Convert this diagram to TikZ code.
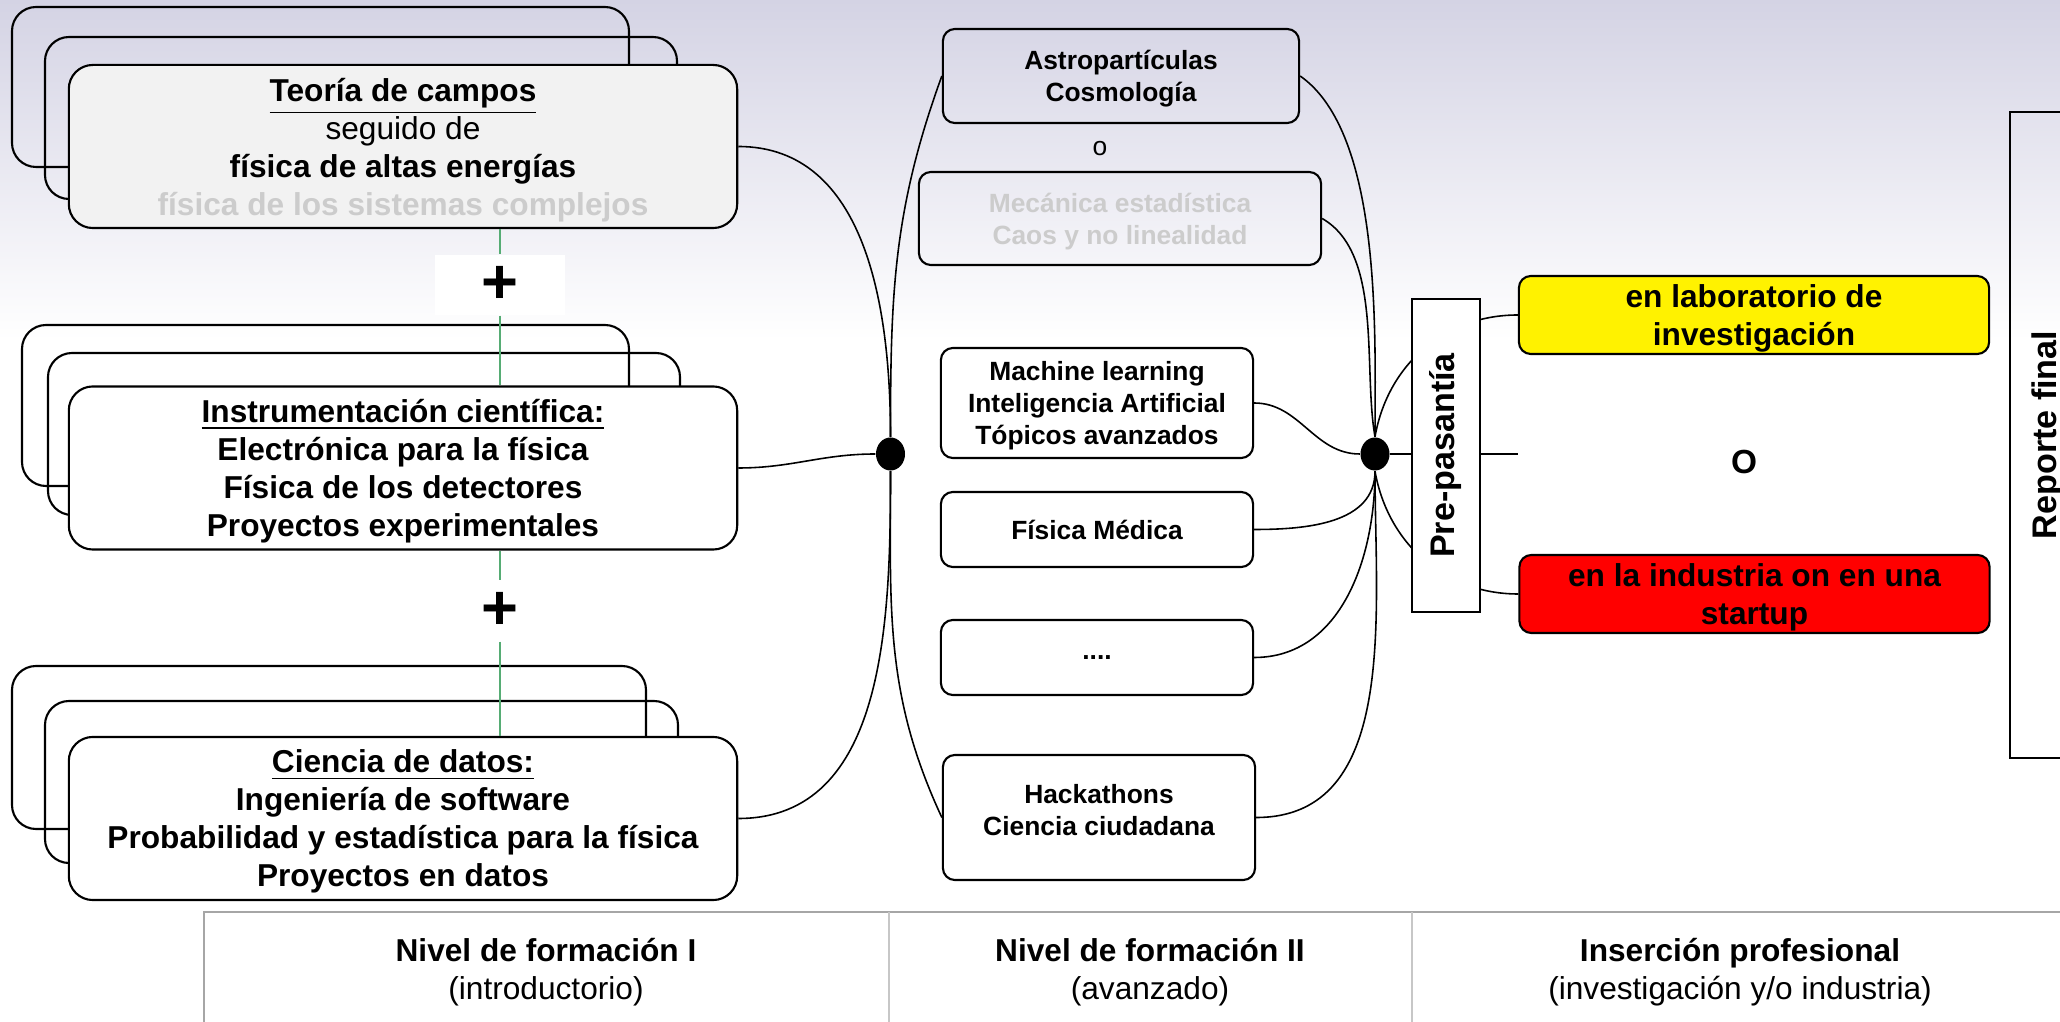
\documentclass[tikz,border=0pt]{standalone}
\usepackage{fontspec}
\setmainfont{Liberation Sans}
\usetikzlibrary{shapes.geometric}
\definecolor{fondo}{RGB}{212,211,228}
\definecolor{verde}{RGB}{86,172,116}
\newcommand{\bloque}[4][]{\node[bloque,#1] at (#2) (#3) {#4}}
\newcommand{\caja}[4][]{\node[caja,#1] at (#2) (#3) {#4}}

\begin{document}
\begin{tikzpicture}[x=0.01cm,y=0.01cm,
		atras/.style={draw,semithick,rounded corners=0.24cm},
		bloque/.style={draw,semithick,rounded corners=0.24cm,fill=white,align=center,inner sep=0pt,text depth=0pt,
			minimum width=6.68cm,minimum height=1.63cm,font=\fontsize{9}{10.8}\selectfont},
		caja/.style={draw,semithick,rounded corners=0.12cm,align=center,inner sep=0pt,text depth=0pt,
			minimum width=3.12cm,font=\fontsize{7.5}{9.1}\selectfont\bfseries},
		opcion/.style={draw,semithick,rounded corners=0.12cm,align=center,inner sep=0pt,text depth=0pt,
			minimum width=4.70cm,minimum height=0.78cm,font=\fontsize{9}{10.8}\selectfont\bfseries},
		vertical/.style={draw,semithick,rotate=90,inner sep=0pt,font=\fontsize{9.7}{11}\selectfont\bfseries},
		punto/.style={ellipse,fill=black,inner sep=0pt,minimum width=0.29cm,minimum height=0.33cm},
		mas/.style={fill=white,inner sep=0pt,minimum width=1.29cm,minimum height=0.60cm,font=\fontsize{18}{20}\selectfont\bfseries},
		nivel/.style={align=center,text depth=0pt,font=\fontsize{9}{10.8}\selectfont},
		enlace/.style={line width=0.45pt}]
					\useasboundingbox (0,0) rectangle (2060,-1022);
					\fill[top color=fondo,bottom color=white] (0,0) rectangle (2060,-340);
					
					\draw[atras] (12,-7) rectangle (629,-167);
					\draw[atras] (45,-37) rectangle (677,-199);
					\draw[atras] (22,-325) rectangle (629,-486);
					\draw[atras] (48,-353) rectangle (680,-515);
					\draw[atras] (12,-666) rectangle (646,-829);
					\draw[atras] (45,-701) rectangle (678,-863);
					
					\bloque[fill=black!5]{403,-146.5}{teoria}{\textbf{\underline{Teoría de campos}}\\seguido de\\\textbf{física de altas energías}\\\textcolor{black!20}{\textbf{física de los sistemas complejos}}};
					\bloque[font=\fontsize{9}{10.8}\selectfont\bfseries]{403,-468}{instr}{\underline{Instrumentación científica:}\\Electrónica para la física\\Física de los detectores\\Proyectos experimentales};
					\bloque[font=\fontsize{9}{10.8}\selectfont\bfseries]{403,-818.5}{datos}{\underline{Ciencia de datos:}\\Ingeniería de software\\Probabilidad y estadística para la física\\Proyectos en datos};
					
					\node[mas] at (500,-285) (mas1) {+};
					\node[mas] at (500,-611) (mas2) {+};
					\draw[verde] (teoria.south -| mas1) -- (mas1) -- (instr.north -| mas1);
					\draw[verde] (instr.south -| mas2) -- (mas2) -- (datos.north -| mas2);
					
					\caja[minimum width=3.56cm,minimum height=0.94cm]{1121,-76}{astro}{Astropartículas\\Cosmología};
					\node[font=\fontsize{7.5}{9}\selectfont] at (1100,-149) (o1) {o};
					\caja[minimum width=4.02cm,minimum height=0.93cm,text=black!20]{1120,-218.5}{mecanica}{Mecánica estadística\\Caos y no linealidad};
					\caja[fill=white,minimum height=1.10cm]{1097,-403}{ml}{Machine learning\\Inteligencia Artificial\\Tópicos avanzados};
					\caja[fill=white,minimum height=0.75cm]{1097,-529.5}{medica}{Física Médica};
					\caja[fill=white,minimum height=0.75cm]{1097,-657.5}{puntos}{....};
					\caja[fill=white,minimum height=1.25cm,text depth=4.4pt]{1099,-817.5}{hack}{Hackathons\\Ciencia ciudadana};
					
					\node[punto] at (890.5,-454) (dotI) {};
					\node[punto] at (1375,-454) (dotD) {};
					
					\node[opcion,fill=yellow] at (1754,-315) (lab) {en laboratorio de\\investigación};
					\node[opcion,fill=red] at (1754.5,-594) (ind) {en la industria on en una\\startup};
					\node[inner sep=0pt,minimum width=4.5cm,font=\fontsize{9.5}{11}\selectfont\bfseries] at (1744,-462) (oO) {O};
					
					\draw[enlace] (teoria.east) to[out=0,in=90] (dotI.north);
					\draw[enlace] (instr.east) to[out=0,in=180] (dotI.west);
					\draw[enlace] (datos.east) to[out=0,in=-90] (dotI.south);
					\draw[enlace] (dotI.north) to[out=90,in=250] (astro.west);
					\draw[enlace] (dotI.south) to[out=-90,in=115] (hack.west);
					
					\draw[enlace] (astro.east) to[out=-35,in=90,looseness=0.7] (dotD.north);
					\draw[enlace] (mecanica.east) to[out=-30,in=100,looseness=0.8] (dotD.north);
					\draw[enlace] (ml.east) to[out=0,in=180] (dotD.west);
					\draw[enlace] (medica.east) to[out=0,in=-90] (dotD.south);
					\draw[enlace] (puntos.east) to[out=0,in=-90] (dotD.south);
					\draw[enlace] (hack.east) to[out=0,in=-90] (dotD.south);
					
					\draw[enlace] (dotD.east) -- (oO.west |- dotD.east);
					\draw[enlace] (dotD.north) to[out=80,in=180] (lab.west);
					\draw[enlace] (dotD.south) to[out=-80,in=180] (ind.west);
					
					\node[vertical,fill=white,minimum width=3.13cm,minimum height=0.68cm] at (1446,-455.5) (prepas) {Pre-pasantía};
					\node[vertical,minimum width=6.46cm,minimum height=0.75cm] at (2047.5,-435) (reporte) {Reporte final};
					
					\draw[line width=0.8pt,black!35] (204,-1030) -- (204,-912) -- (2070,-912);
					\draw[black!22] (889,-912) -- (889,-1030);
					\draw[black!22] (1412,-912) -- (1412,-1030);
					
					\node[nivel] at (546,-969) (nivel1) {\textbf{Nivel de formación I}\\(introductorio)};
					\node[nivel] at (1150,-969) (nivel2) {\textbf{Nivel de formación II}\\(avanzado)};
					\node[nivel] at (1740,-969) (insercion) {\textbf{Inserción profesional}\\(investigación y/o industria)};
				\end{tikzpicture}
\end{document}
